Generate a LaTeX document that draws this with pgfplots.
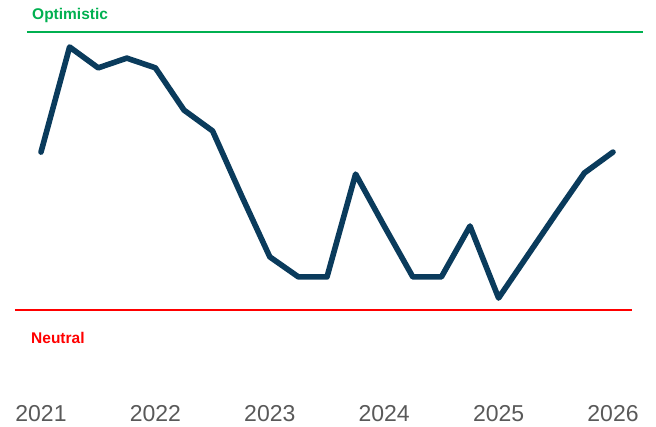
\documentclass[border=0pt]{standalone}
\usepackage{pgfplots}
\pgfplotsset{compat=1.18}
\usepackage{fontspec}
\setmainfont{Liberation Sans}
\definecolor{navy}{HTML}{0A3B5C}
\definecolor{optgreen}{HTML}{00B050}
\definecolor{neured}{HTML}{FF0000}
\definecolor{ticgray}{HTML}{595959}
\begin{document}
\begin{tikzpicture}
\begin{axis}[
  at={(0,0)}, anchor=south west,
  scale only axis, width=656pt, height=427pt,
  xmin=2020.6416, xmax=2026.3759,
  ymin=-4.209, ymax=11.151,
  axis line style={draw=none},
  ytick=\empty,
  xtick={2021,2022,2023,2024,2025,2026},
  xticklabels={2021,2022,2023,2024,2025,2026},
  major tick length=0pt,
  xticklabel style={anchor=base, yshift=5pt, font=\fontsize{23}{26}\selectfont, text=ticgray},
  clip=false,
]
\addplot[optgreen, line width=2.5pt] coordinates {(2020.8776,10) (2026.2622,10)};
\addplot[neured, line width=2.5pt] coordinates {(2020.7727,0) (2026.1661,0)};
\addplot[navy, line width=5.6pt, line join=round, line cap=round] coordinates {
(2021.00,5.68) (2021.25,9.46) (2021.50,8.71) (2021.75,9.06) (2022.00,8.71)
(2022.25,7.19) (2022.50,6.44) (2022.75,4.14) (2023.00,1.91) (2023.25,1.19)
(2023.50,1.19) (2023.75,4.89) (2024.00,3.02) (2024.25,1.19) (2024.50,1.19)
(2024.75,3.02) (2025.00,0.43) (2025.25,1.94) (2025.50,3.45) (2025.75,4.93)
(2026.00,5.68)};
\node[anchor=west, inner sep=0pt, text=optgreen, font=\bfseries\fontsize{15.5}{17}\selectfont] at (axis cs:2020.9213,10.61) {Optimistic};
\node[anchor=west, inner sep=0pt, text=neured, font=\bfseries\fontsize{15.5}{17}\selectfont] at (axis cs:2020.9126,-1.007) {Neutral};
\end{axis}
\pgfresetboundingbox
\path[use as bounding box] (0,0) rectangle (656pt,427pt);
\end{tikzpicture}
\end{document}
